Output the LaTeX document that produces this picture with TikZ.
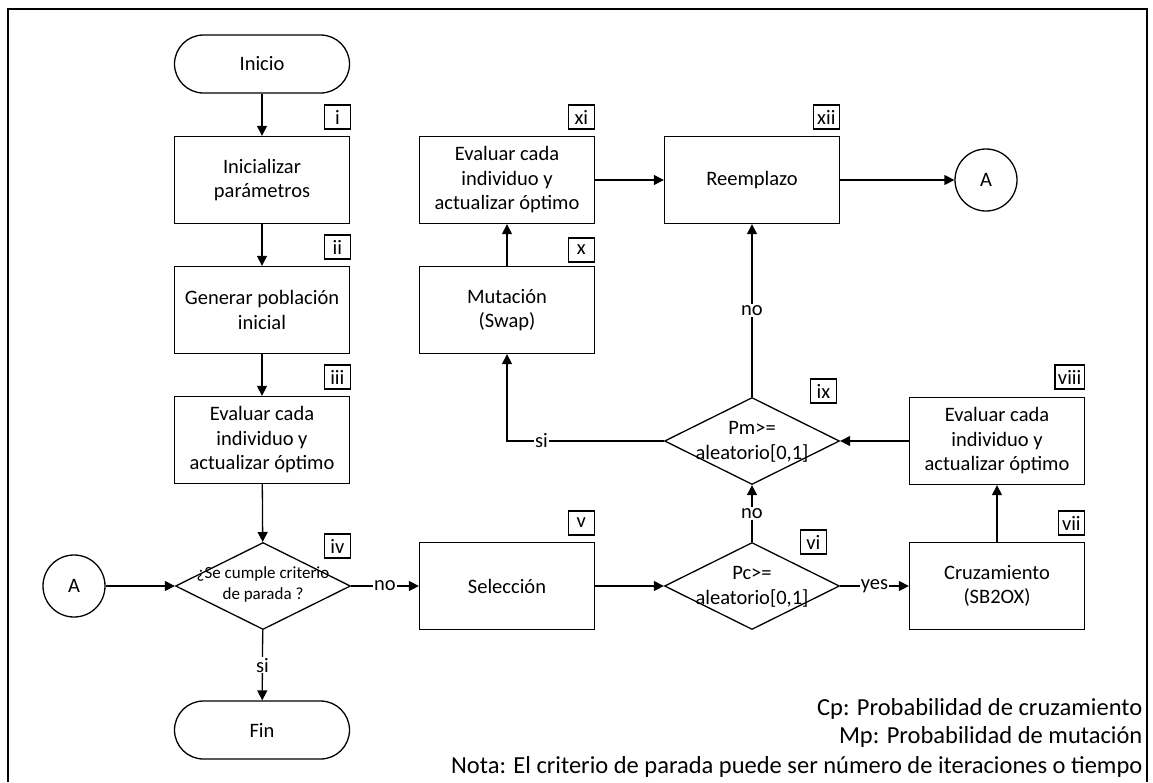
\documentclass[tikz,border=0pt]{standalone}
\usepackage{fontspec}
\setmainfont{Carlito}
\usetikzlibrary{shapes.geometric,arrows.meta}
\begin{document}
\begin{tikzpicture}[x=1pt,y=-1pt, line width=1.3pt,
  box/.style={draw, minimum width=175pt, minimum height=87pt, align=center, inner sep=0pt, font=\fontsize{20.5}{24.5}\selectfont},
  term/.style={draw, rounded corners=29pt, minimum width=175pt, minimum height=58pt, inner sep=0pt, font=\fontsize{20.5}{24.5}\selectfont},
  dia/.style={draw, diamond, aspect=2, minimum width=175pt, minimum height=87pt, inner sep=0pt},
  diatext/.style={align=center, inner sep=0pt, font=\fontsize{20.5}{24.5}\selectfont},
  conn/.style={draw, circle, minimum size=62pt, inner sep=0pt, font=\fontsize{20.5}{24.5}\selectfont},
  tag/.style={draw, anchor=east, minimum width=26pt, minimum height=24pt, inner sep=3pt, font=\fontsize{20.5}{22}\selectfont},
  lbl/.style={fill=white, inner sep=1pt, font=\fontsize{20.5}{22}\selectfont},
  arr/.style={-{Triangle[length=10pt,width=10pt]}},
  note/.style={anchor=base east, inner sep=0pt, font=\fontsize{24.5}{28}\selectfont}]
\useasboundingbox (0,0) rectangle (1153,782);
\draw (8,782) -- (8,9) -- (1147,9) -- (1147,782);

% left column
\node[term] (inicio) at (262,64) {Inicio};
\node[box] (init) at (262,180) {Inicializar\\parámetros};
\node[box] (gen) at (262,310) {Generar población\\inicial};
\node[box] (eval1) at (262,440) {Evaluar cada\\individuo y\\actualizar óptimo};
\node[dia] (crit) at (263,586) {};
\node[diatext, font=\fontsize{17}{21}\selectfont] (crittxt) at (263,584) {¿Se cumple criterio\\de parada ?};
\node[term] (fin) at (262,730) {Fin};
\node[conn] (aL) at (74,586) {A};

% middle
\node[box] (sel) at (507,586) {Selección};
\node[dia] (pc) at (752,586) {};
\node[diatext] (pctxt) at (752,587) {Pc>=\\aleatorio[0,1]};
\node[box] (cruz) at (997,586) {Cruzamiento\\(SB2OX)};
\node[box] (eval3) at (997,441) {Evaluar cada\\individuo y\\actualizar óptimo};
\node[dia] (pm) at (752,441) {};
\node[diatext] (pmtxt) at (752,442) {Pm>=\\aleatorio[0,1]};
\node[box] (mut) at (507,310) {Mutación\\(Swap)};
\node[box] (eval2) at (507,180) {Evaluar cada\\individuo y\\actualizar óptimo};
\node[box] (reem) at (752,180) {Reemplazo};
\node[conn] (aR) at (986,180) {A};

% tags
\node[tag] (ti) at (351,117) {i};
\node[tag] (tii) at (351,247) {ii};
\node[tag] (tiii) at (351,377) {iii};
\node[tag] (tiv) at (351,546) {iv};
\node[tag] (tv) at (595,523) {v};
\node[tag] (tvi) at (827,542) {vi};
\node[tag] (tvii) at (1085,523) {vii};
\node[tag] (tviii) at (1085,377) {viii};
\node[tag] (tix) at (837,391) {ix};
\node[tag] (tx) at (595,250) {x};
\node[tag] (txi) at (595,117) {xi};
\node[tag] (txii) at (840,117) {xii};

% connectors
\draw[arr] (inicio) -- (init);
\draw[arr] (init) -- (gen);
\draw[arr] (gen) -- (eval1);
\draw[arr] (eval1) -- (crit);
\draw[arr] (crit) -- node[lbl] {si} (fin);
\draw[arr] (crit) -- node[lbl] {no} (sel);
\draw[arr] (aL) -- (crit);
\draw[arr] (sel) -- (pc);
\draw[arr] (pc) -- node[lbl] {yes} (cruz);
\draw[arr] (pc) -- node[lbl] {no} (pm);
\draw[arr] (cruz) -- (eval3);
\draw[arr] (eval3) -- (pm);
\draw[arr] (pm) -- node[lbl] {no} (reem);
\draw[arr] (pm.west) -| node[lbl, pos=0.39] {si} (mut.south);
\draw[arr] (mut) -- (eval2);
\draw[arr] (eval2) -- (reem);
\draw[arr] (reem) -- (aR);

% notes
\node[note] (n1) at (1143,715) {Cp: Probabilidad de cruzamiento};
\node[note] (n2) at (1143,743) {Mp: Probabilidad de mutación};
\node[note] (n3) at (1143,773) {Nota: El criterio de parada puede ser número de iteraciones o tiempo};
\end{tikzpicture}
\end{document}
